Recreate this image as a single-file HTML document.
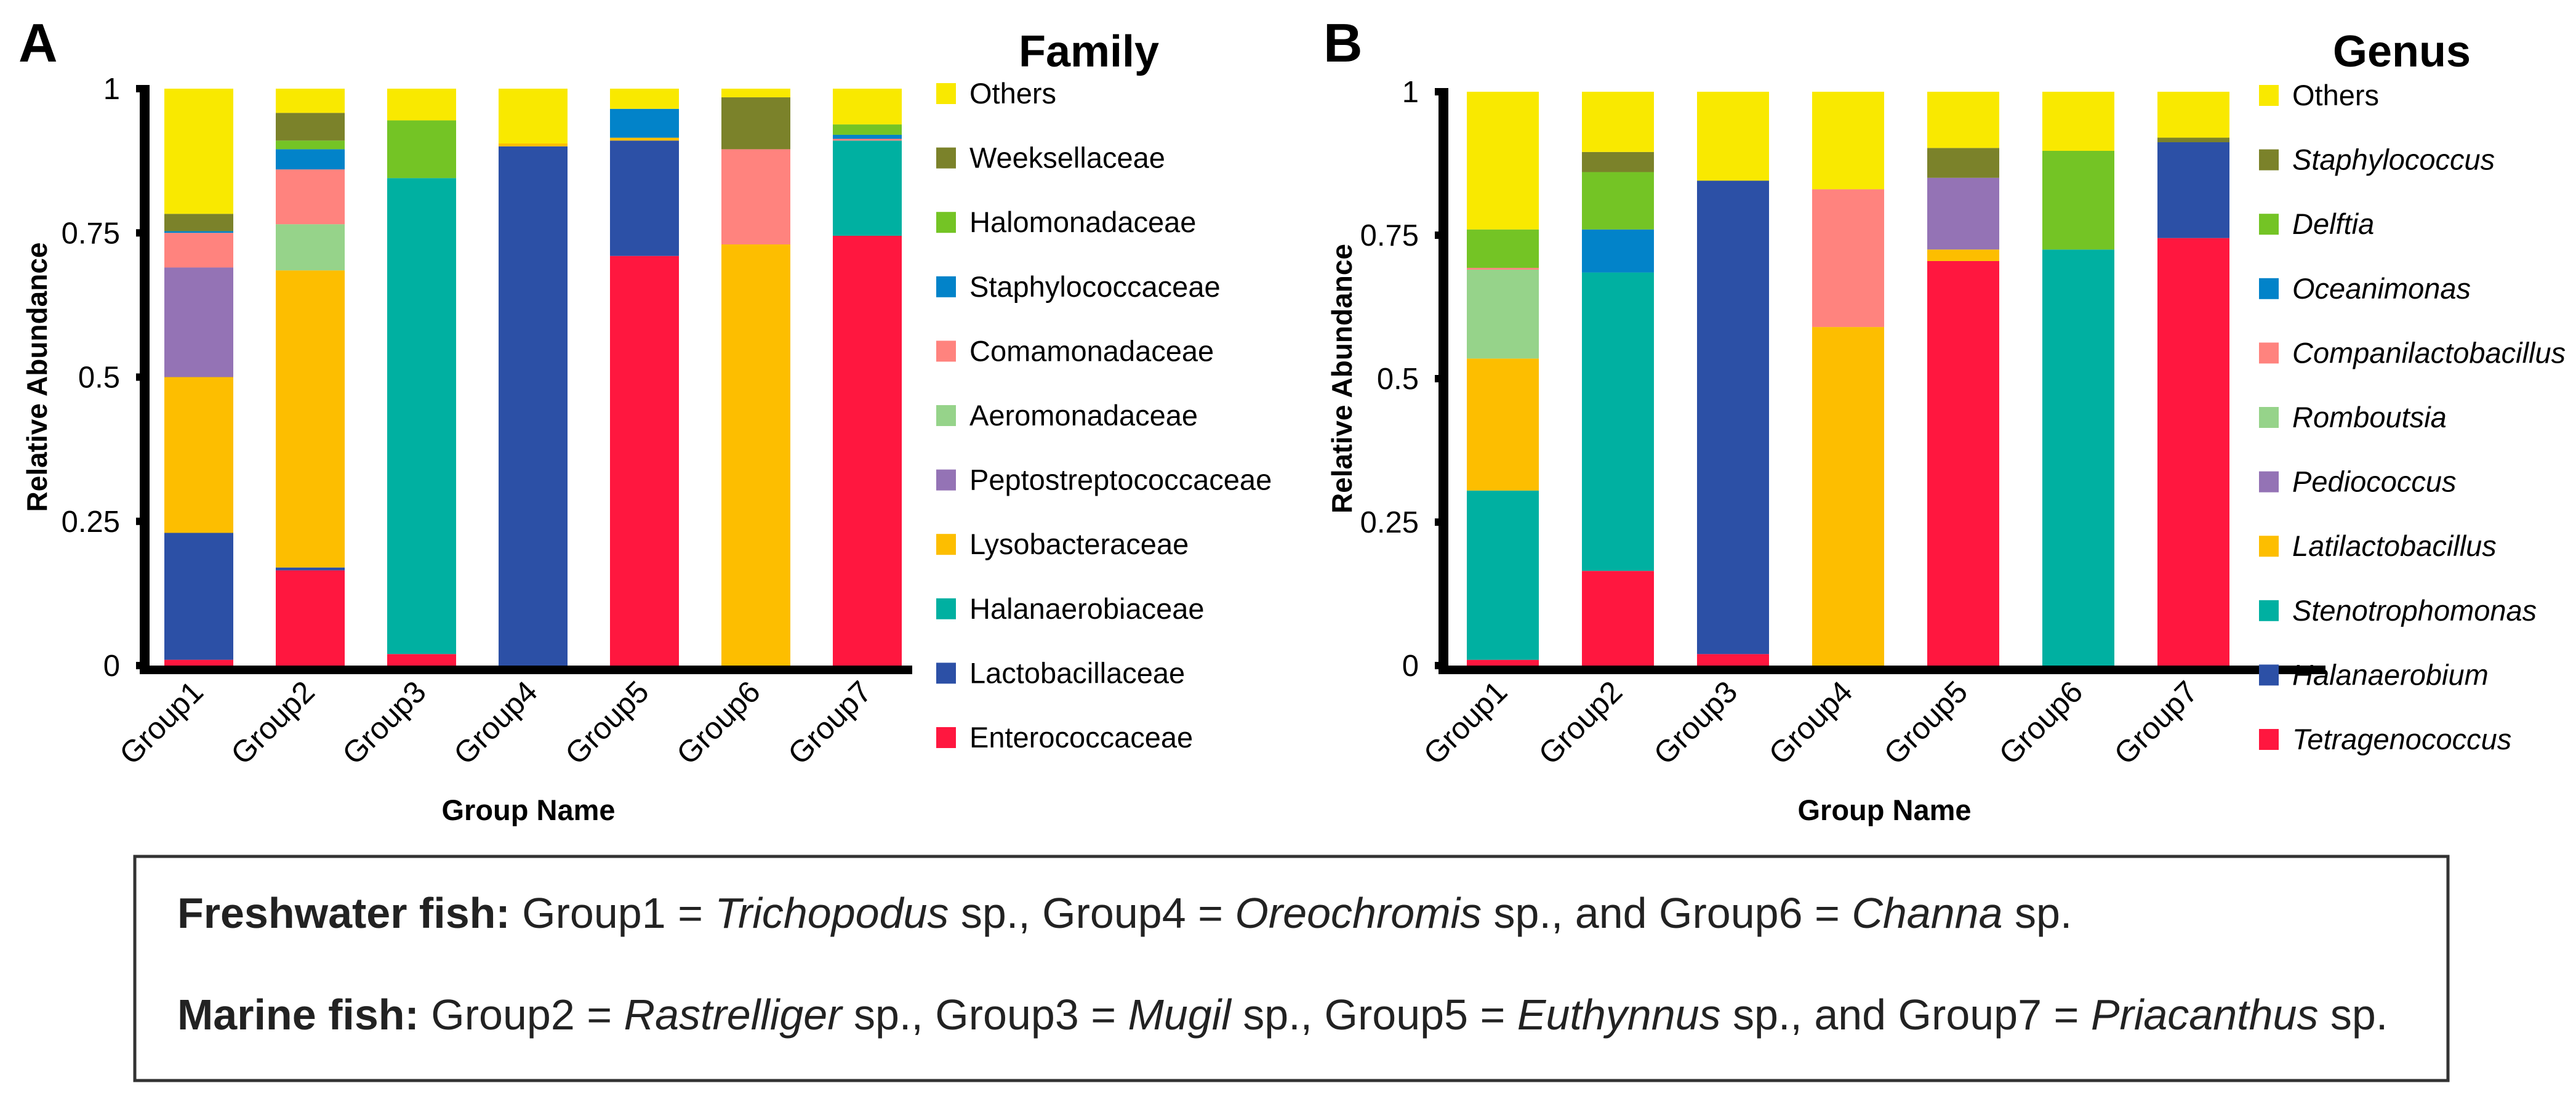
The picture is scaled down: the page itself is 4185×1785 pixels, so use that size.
<!DOCTYPE html>
<html><head><meta charset="utf-8"><style>
html,body{margin:0;padding:0;background:#fff}
svg{display:block;font-family:"Liberation Sans",Arial,sans-serif}
</style></head><body>
<svg id="chart" width="4185" height="1785" viewBox="0 0 4185 1785" xmlns="http://www.w3.org/2000/svg">
<rect width="4185" height="1785" fill="#fff"/>
<g id="panelA"></g>
<g id="panelB"></g>
<g>
<rect x="219" y="1391" width="3758" height="364" fill="none" stroke="#333" stroke-width="5"/>
<text x="288" y="1507" font-size="70" fill="#222"><tspan font-weight="bold">Freshwater fish:</tspan> Group1 = <tspan font-style="italic">Trichopodus</tspan> sp., Group4 = <tspan font-style="italic">Oreochromis</tspan> sp., and Group6 = <tspan font-style="italic">Channa</tspan> sp.</text>
<text x="288" y="1672" font-size="70" fill="#222"><tspan font-weight="bold">Marine fish:</tspan> Group2 = <tspan font-style="italic">Rastrelliger</tspan> sp., Group3 = <tspan font-style="italic">Mugil</tspan> sp., Group5 = <tspan font-style="italic">Euthynnus</tspan> sp., and Group7 = <tspan font-style="italic">Priacanthus</tspan> sp.</text>
</g>
</svg>
<script>
const groups = ["Group1","Group2","Group3","Group4","Group5","Group6","Group7"];
const yTicks = [0,0.25,0.5,0.75,1];
const yTickLabels = ["0","0.25","0.5","0.75","1"];
const palette = ["#FF173F","#2C50A6","#00B0A1","#FDBE00","#9473B5","#96D38A","#FF837E","#0283C9","#74C425","#7B822A","#F9E900"];

// Panel A: families, bottom to top
const familyNames = ["Enterococcaceae","Lactobacillaceae","Halanaerobiaceae","Lysobacteraceae","Peptostreptococcaceae","Aeromonadaceae","Comamonadaceae","Staphylococcaceae","Halomonadaceae","Weeksellaceae","Others"];
const famEnterococcaceae = [0.01,0.165,0.02,0,0.71,0,0.745];
const famLactobacillaceae = [0.22,0.005,0,0.90,0.20,0,0];
const famHalanaerobiaceae = [0,0,0.825,0,0,0,0.165];
const famLysobacteraceae = [0.27,0.515,0,0.005,0.005,0.73,0];
const famPeptostreptococcaceae = [0.19,0,0,0,0,0,0];
const famAeromonadaceae = [0,0.08,0,0,0,0,0];
const famComamonadaceae = [0.06,0.095,0,0,0,0.165,0.003];
const famStaphylococcaceae = [0.003,0.035,0,0,0.05,0,0.007];
const famHalomonadaceae = [0,0.015,0.10,0,0,0,0.018];
const famWeeksellaceae = [0.03,0.048,0,0,0,0.09,0];
const famOthers = [0.217,0.042,0.055,0.095,0.035,0.015,0.062];
const familySeries = [famEnterococcaceae,famLactobacillaceae,famHalanaerobiaceae,famLysobacteraceae,famPeptostreptococcaceae,famAeromonadaceae,famComamonadaceae,famStaphylococcaceae,famHalomonadaceae,famWeeksellaceae,famOthers];

// Panel B: genera, bottom to top
const genusNames = ["Tetragenococcus","Halanaerobium","Stenotrophomonas","Latilactobacillus","Pediococcus","Romboutsia","Companilactobacillus","Oceanimonas","Delftia","Staphylococcus","Others"];
const genTetragenococcus = [0.01,0.165,0.02,0,0.705,0,0.745];
const genHalanaerobium = [0,0,0.825,0,0,0,0.167];
const genStenotrophomonas = [0.295,0.52,0,0,0,0.725,0];
const genLatilactobacillus = [0.23,0,0,0.59,0.02,0,0];
const genPediococcus = [0,0,0,0,0.125,0,0];
const genRomboutsia = [0.155,0,0,0,0,0,0];
const genCompanilactobacillus = [0.003,0,0,0.24,0,0,0];
const genOceanimonas = [0,0.075,0,0,0,0,0];
const genDelftia = [0.067,0.10,0,0,0,0.172,0];
const genStaphylococcus = [0,0.035,0,0,0.052,0,0.008];
const genOthers = [0.24,0.105,0.155,0.17,0.098,0.103,0.08];
const genusSeries = [genTetragenococcus,genHalanaerobium,genStenotrophomonas,genLatilactobacillus,genPediococcus,genRomboutsia,genCompanilactobacillus,genOceanimonas,genDelftia,genStaphylococcus,genOthers];

const NS = "http://www.w3.org/2000/svg";
function mk(tag, attrs, parent){const e=document.createElementNS(NS,tag);for(const k in attrs)e.setAttribute(k,attrs[k]);parent.appendChild(e);return e;}

function drawPanel(g, cfg, names, series, italic){
  const y = v => cfg.y0 - v*(cfg.y0-cfg.y1);
  const xLeft = i => cfg.bar0 + i*cfg.step;
  groups.forEach((grp,i)=>{
    let acc=0;
    series.forEach((s,k)=>{
      const v=s[i]; if(v<=0){return;}
      const r=mk("rect",{x:xLeft(i),y:y(acc+v),width:cfg.bw,height:y(acc)-y(acc+v),fill:palette[k]},g);
      
      
      acc+=v;
    });
    const t=mk("text",{x:0,y:0,"font-size":50,"text-anchor":"end",transform:`translate(${xLeft(i)+cfg.bw/2+10},${cfg.y0+46}) rotate(-45)`},g);
    t.textContent=grp;
    
    
  });
  const ya=mk("rect",{x:cfg.ax-8,y:cfg.y1-6,width:16,height:cfg.y0-cfg.y1+18,fill:"#000"},g);
  
  
  const xa=mk("rect",{x:cfg.ax-8,y:cfg.y0,width:cfg.axEnd-cfg.ax+8,height:14,fill:"#000"},g);
  
  
  yTicks.forEach((v,i)=>{
    const tk=mk("rect",{x:cfg.ax-14,y:y(v)-6,width:8,height:12,fill:"#000"},g);
    
    
    const t=mk("text",{x:cfg.ax-40,y:y(v)+17,"font-size":49,"text-anchor":"end"},g);
    t.textContent=yTickLabels[i];
    
    
  });
  const yt=mk("text",{x:0,y:0,"font-size":46,"font-weight":"bold","text-anchor":"middle",transform:`translate(${cfg.ytx},${(cfg.y0+cfg.y1)/2}) rotate(-90)`},g);
  yt.textContent="Relative Abundance";
  
  
  const xt=mk("text",{x:(cfg.ax+cfg.axEnd)/2,y:1332,"font-size":47,"font-weight":"bold","text-anchor":"middle"},g);
  xt.textContent="Group Name";
  
  
  const pl=mk("text",{x:cfg.lx,y:100,"font-size":88,"font-weight":"bold"},g);
  pl.textContent=cfg.letter;
  
  
  const lt=mk("text",{x:cfg.legTitleX,y:108,"font-size":72,"font-weight":"bold"},g);
  lt.textContent=cfg.title;
  
  
  for(let j=0;j<names.length;j++){
    const k=names.length-1-j;
    const cy=cfg.legY+j*104.6;
    const e=mk("g",{},g);
    
    
    mk("rect",{x:cfg.legX,y:cy-17,width:32,height:34,fill:palette[k]},e);
    const t=mk("text",{x:cfg.legX+54,y:cy+16,"font-size":47,"font-style":(italic&&names[k]!=="Others")?"italic":"normal"},e);
    t.textContent=names[k];
  }
}
drawPanel(document.getElementById("panelA"),
  {y0:1081,y1:144,ax:235,axEnd:1482,bar0:267,bw:112,step:181,ytx:76,lx:30,letter:"A",title:"Family",legTitleX:1655,legX:1521,legY:152},
  familyNames,familySeries,false);
drawPanel(document.getElementById("panelB"),
  {y0:1081,y1:149,ax:2345,axEnd:3778,bar0:2383,bw:117,step:187,ytx:2196,lx:2150,letter:"B",title:"Genus",legTitleX:3790,legX:3670,legY:155},
  genusNames,genusSeries,true);
</script>
</body></html>
